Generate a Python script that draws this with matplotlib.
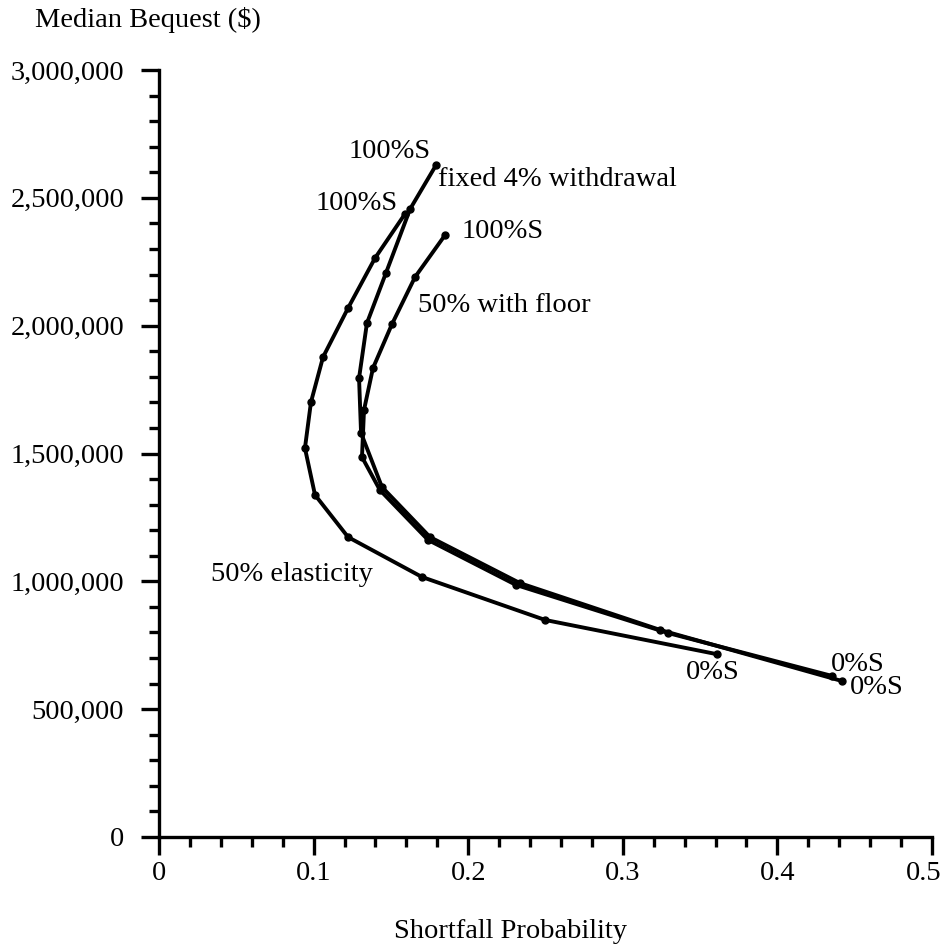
import matplotlib.pyplot as plt
from matplotlib.ticker import FuncFormatter, MultipleLocator
from matplotlib.transforms import ScaledTranslation

plt.rcParams['font.family'] = ['Liberation Serif', 'DejaVu Serif']

# shortfall probability / median bequest, from 0%S to 100%S
elast_x = [0.3609, 0.2497, 0.1701, 0.1223, 0.1009, 0.0944, 0.0983, 0.1061, 0.1223, 0.1397, 0.1591]
elast_y = [715000, 849000, 1017000, 1173000, 1338000, 1521000, 1701000, 1877000, 2069000, 2264000, 2437000]

fixed_x = [0.4418, 0.3241, 0.2335, 0.1753, 0.1442, 0.1307, 0.1294, 0.1345, 0.1468, 0.1624, 0.1792]
fixed_y = [610000, 810000, 993000, 1173000, 1369000, 1580000, 1795000, 2010000, 2206000, 2456000, 2628000]

floor_x = [0.4353, 0.3292, 0.2309, 0.1740, 0.1429, 0.1313, 0.1326, 0.1384, 0.1507, 0.1656, 0.1850]
floor_y = [630000, 798000, 986000, 1162000, 1357000, 1486000, 1670000, 1834000, 2006000, 2190000, 2354000]

x_ticks = [0, 0.1, 0.2, 0.3, 0.4, 0.5]
y_ticks = [0, 500000, 1000000, 1500000, 2000000, 2500000, 3000000]

fig = plt.figure(figsize=(9.44, 9.48), dpi=100)
ax = fig.add_axes([159 / 944, 111 / 948, 773 / 944, 767 / 948])

for xs, ys in [(elast_x, elast_y), (fixed_x, fixed_y), (floor_x, floor_y)]:
    ax.plot(xs, ys, color='black', lw=2.8, marker='o', ms=5)

fs = 20.5
ax.text(0.1494, 2680000, '100%S', fontsize=fs, ha='center', va='center')
ax.text(0.1805, 2570000, 'fixed 4% withdrawal', fontsize=fs, ha='left', va='center')
ax.text(0.1281, 2476000, '100%S', fontsize=fs, ha='center', va='center')
ax.text(0.1960, 2370000, '100%S', fontsize=fs, ha='left', va='center')
ax.text(0.1675, 2080000, '50% with floor', fontsize=fs, ha='left', va='center')
ax.text(0.0336, 1025000, '50% elasticity', fontsize=fs, ha='left', va='center')
ax.text(0.3583, 645000, '0%S', fontsize=fs, ha='center', va='center')
ax.text(0.4521, 676000, '0%S', fontsize=fs, ha='center', va='center')
ax.text(0.4644, 583000, '0%S', fontsize=fs, ha='center', va='center')

ax.set_xlim(0, 0.5)
ax.set_ylim(0, 3000000)
ax.set_xticks(x_ticks)
ax.set_yticks(y_ticks)
ax.xaxis.set_minor_locator(MultipleLocator(0.02))
ax.yaxis.set_minor_locator(MultipleLocator(100000))
ax.xaxis.set_major_formatter(FuncFormatter(lambda v, p: '0' if v == 0 else f'{v:g}'))
ax.yaxis.set_major_formatter(FuncFormatter(lambda v, p: f'{int(v):,}'))

for s in ['top', 'right']:
    ax.spines[s].set_visible(False)
for s in ['left', 'bottom']:
    ax.spines[s].set_linewidth(2.4)
ax.tick_params(which='major', direction='out', length=13, width=2.4, labelsize=fs)
ax.tick_params(which='minor', direction='out', length=7, width=2.4)
ax.tick_params(axis='x', which='major', pad=4)
ax.tick_params(axis='y', which='major', pad=12)

# keep the last x label inside the picture
last = ax.get_xticklabels()[-1]
last.set_transform(last.get_transform() + ScaledTranslation(-8 / 100, 0, fig.dpi_scale_trans))

fig.text(510 / 944, 1 - 931 / 948, 'Shortfall Probability', fontsize=fs, ha='center', va='center')
fig.text(35 / 944, 1 - 20 / 948, 'Median Bequest ($)', fontsize=fs, ha='left', va='center')

fig.savefig('out.png', dpi=100)
